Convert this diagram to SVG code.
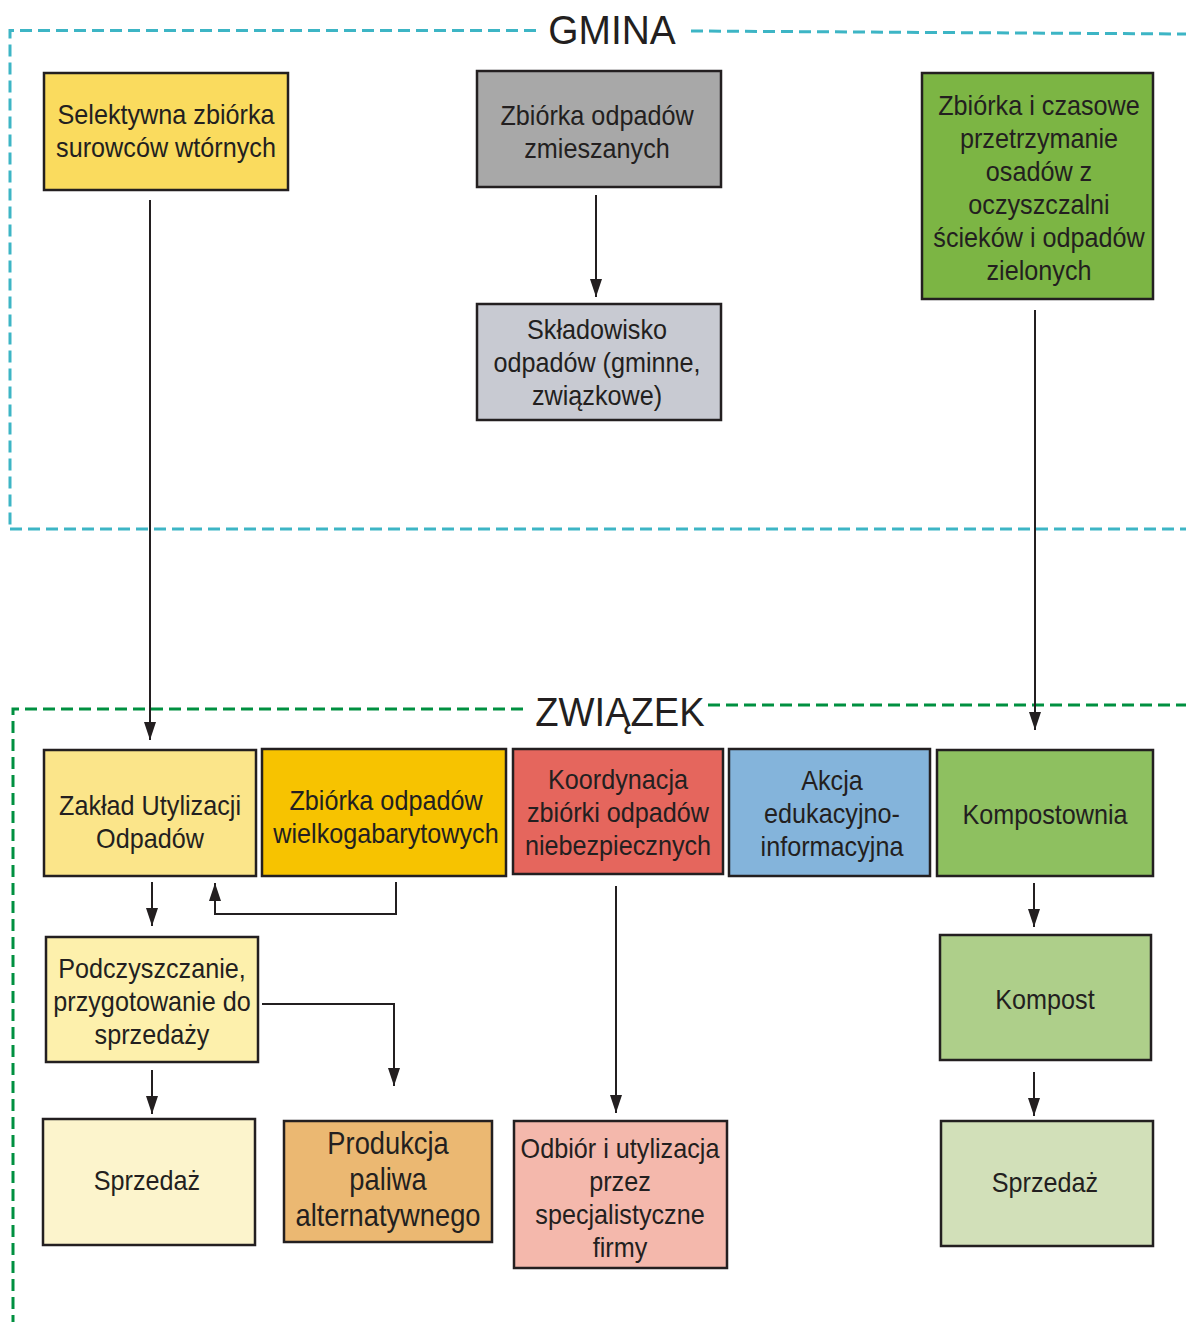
<svg xmlns="http://www.w3.org/2000/svg" width="1186" height="1322" viewBox="0 0 1186 1322">
<style>
.box{stroke:#231f20;stroke-width:2.5}
.t{font-family:"Liberation Sans",Arial,sans-serif;font-size:28px;fill:#231f20;text-anchor:middle}
.big{font-size:31px}
.lbl{font-family:"Liberation Sans",Arial,sans-serif;font-size:41px;fill:#231f20;text-anchor:middle}
.gm{fill:none;stroke:#3db5c5;stroke-width:3;stroke-dasharray:12 6}
.zw{fill:none;stroke:#009040;stroke-width:3;stroke-dasharray:12 6}
.c{fill:none;stroke:#231f20;stroke-width:2;marker-end:url(#ah)}
</style>
<defs>
<marker id="ah" markerUnits="userSpaceOnUse" markerWidth="20" markerHeight="13" refX="18" refY="6" orient="auto">
<path d="M0,0 L18,6 L0,12 z" fill="#231f20"/>
</marker>
</defs>
<rect width="1186" height="1322" fill="#ffffff"/>
<g id="gmina-frame">
<path class="gm" d="M536,30.5 L10,30.5 L10,528"/>
<path class="gm" d="M691,31 L1186,34"/>
<path class="gm" d="M10,529 L1186,529"/>
<text class="lbl" transform="translate(612 44) scale(0.95 1)" x="0" y="0">GMINA</text>
</g>
<g id="zwiazek-frame">
<path class="zw" d="M523,709 L13,709 L13,1322"/>
<path class="zw" d="M708,705 L1186,705"/>
<text class="lbl" transform="translate(620 726) scale(0.93 1)" x="0" y="0">ZWIĄZEK</text>
</g>
<g id="connectors">
<line class="c" x1="150" y1="200" x2="150" y2="740"/>
<line class="c" x1="596" y1="195" x2="596" y2="297"/>
<line class="c" x1="1035" y1="310" x2="1035" y2="730"/>
<line class="c" x1="152" y1="882" x2="152" y2="926"/>
<path class="c" d="M396,882 L396,914 L215,914 L215,883"/>
<path class="c" d="M262,1004 L394,1004 L394,1086"/>
<line class="c" x1="152" y1="1070" x2="152" y2="1114"/>
<line class="c" x1="616" y1="886" x2="616" y2="1113"/>
<line class="c" x1="1034" y1="883" x2="1034" y2="927"/>
<line class="c" x1="1034" y1="1072" x2="1034" y2="1116"/>
</g>
<g id="n-selektywna">
<rect class="box" x="44" y="73" width="244" height="117" fill="#fadb5e"/>
<text class="t" transform="translate(166 0) scale(0.9 1)"><tspan x="0" y="124">Selektywna zbiórka</tspan><tspan x="0" y="157">surowców wtórnych</tspan></text>
</g>
<g id="n-zmieszane">
<rect class="box" x="477" y="71" width="244" height="116" fill="#a8a8a8"/>
<text class="t" transform="translate(597 0) scale(0.9 1)"><tspan x="0" y="125">Zbiórka odpadów</tspan><tspan x="0" y="158">zmieszanych</tspan></text>
</g>
<g id="n-osady">
<rect class="box" x="922" y="73" width="231" height="226" fill="#7cb544"/>
<text class="t" transform="translate(1039 0) scale(0.9 1)"><tspan x="0" y="115">Zbiórka i czasowe</tspan><tspan x="0" y="148">przetrzymanie</tspan><tspan x="0" y="181">osadów z</tspan><tspan x="0" y="214">oczyszczalni</tspan><tspan x="0" y="247">ścieków i odpadów</tspan><tspan x="0" y="280">zielonych</tspan></text>
</g>
<g id="n-skladowisko">
<rect class="box" x="477" y="304" width="244" height="116" fill="#c8cad2"/>
<text class="t" transform="translate(597 0) scale(0.9 1)"><tspan x="0" y="339">Składowisko</tspan><tspan x="0" y="372">odpadów (gminne,</tspan><tspan x="0" y="405">związkowe)</tspan></text>
</g>
<g id="n-zaklad">
<rect class="box" x="44" y="750" width="212" height="126" fill="#fbe58a"/>
<text class="t" transform="translate(150 0) scale(0.9 1)"><tspan x="0" y="815">Zakład Utylizacji</tspan><tspan x="0" y="848">Odpadów</tspan></text>
</g>
<g id="n-wielkogabarytowe">
<rect class="box" x="262" y="749" width="244" height="127" fill="#f7c300"/>
<text class="t" transform="translate(386 0) scale(0.9 1)"><tspan x="0" y="810">Zbiórka odpadów</tspan><tspan x="0" y="843">wielkogabarytowych</tspan></text>
</g>
<g id="n-koordynacja">
<rect class="box" x="513" y="749" width="210" height="125" fill="#e5665d"/>
<text class="t" transform="translate(618 0) scale(0.9 1)"><tspan x="0" y="789">Koordynacja</tspan><tspan x="0" y="822">zbiórki odpadów</tspan><tspan x="0" y="855">niebezpiecznych</tspan></text>
</g>
<g id="n-akcja">
<rect class="box" x="729" y="749" width="201" height="127" fill="#84b4db"/>
<text class="t" transform="translate(832 0) scale(0.9 1)"><tspan x="0" y="790">Akcja</tspan><tspan x="0" y="823">edukacyjno-</tspan><tspan x="0" y="856">informacyjna</tspan></text>
</g>
<g id="n-kompostownia">
<rect class="box" x="937" y="750" width="216" height="126" fill="#8ec060"/>
<text class="t" transform="translate(1045 0) scale(0.9 1)"><tspan x="0" y="824">Kompostownia</tspan></text>
</g>
<g id="n-podczyszczanie">
<rect class="box" x="46" y="937" width="212" height="125" fill="#fdf0ac"/>
<text class="t" transform="translate(152 0) scale(0.9 1)"><tspan x="0" y="978">Podczyszczanie,</tspan><tspan x="0" y="1011">przygotowanie do</tspan><tspan x="0" y="1044">sprzedaży</tspan></text>
</g>
<g id="n-kompost">
<rect class="box" x="940" y="935" width="211" height="125" fill="#aecf8a"/>
<text class="t" transform="translate(1045 0) scale(0.9 1)"><tspan x="0" y="1009">Kompost</tspan></text>
</g>
<g id="n-sprzedaz-1">
<rect class="box" x="43" y="1119" width="212" height="126" fill="#fcf4cc"/>
<text class="t" transform="translate(147 0) scale(0.9 1)"><tspan x="0" y="1190">Sprzedaż</tspan></text>
</g>
<g id="n-paliwo">
<rect class="box" x="284" y="1121" width="208" height="121" fill="#ebb872"/>
<text class="t big" transform="translate(388 0) scale(0.88 1)"><tspan x="0" y="1154">Produkcja</tspan><tspan x="0" y="1190">paliwa</tspan><tspan x="0" y="1226">alternatywnego</tspan></text>
</g>
<g id="n-odbior">
<rect class="box" x="514" y="1121" width="213" height="147" fill="#f4b8ac"/>
<text class="t" transform="translate(620 0) scale(0.9 1)"><tspan x="0" y="1158">Odbiór i utylizacja</tspan><tspan x="0" y="1191">przez</tspan><tspan x="0" y="1224">specjalistyczne</tspan><tspan x="0" y="1257">firmy</tspan></text>
</g>
<g id="n-sprzedaz-2">
<rect class="box" x="941" y="1121" width="212" height="125" fill="#d2e0b9"/>
<text class="t" transform="translate(1045 0) scale(0.9 1)"><tspan x="0" y="1192">Sprzedaż</tspan></text>
</g>
</svg>
